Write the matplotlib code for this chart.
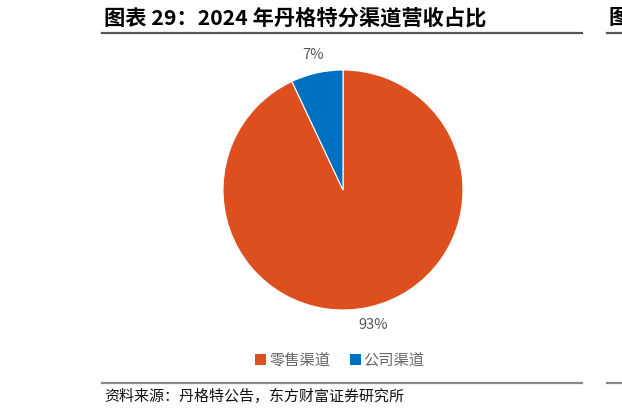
import matplotlib.pyplot as plt
from matplotlib.lines import Line2D
from matplotlib.patches import Patch

plt.rcParams['font.family'] = ['Noto Sans CJK SC', 'DejaVu Sans']

# data
channels = ["零售渠道", "公司渠道"]
shares = [93, 7]
colors = ["#DE4F1F", "#0070C0"]

title = "图表 29：2024 年丹格特分渠道营收占比"
source = "资料来源：丹格特公告，东方财富证券研究所"

W, H = 622, 413
fig = plt.figure(figsize=(W / 100, H / 100), dpi=100)

# header / footer rules
fig.add_artist(Line2D([102 / W, 582 / W], [1 - 33 / H, 1 - 33 / H], color="#555555", lw=1.6))
fig.add_artist(Line2D([102 / W, 582 / W], [1 - 383 / H, 1 - 383 / H], color="#888888", lw=1.6))
fig.add_artist(Line2D([607 / W, 1.0], [1 - 33 / H, 1 - 33 / H], color="#555555", lw=1.6))
fig.add_artist(Line2D([607 / W, 1.0], [1 - 383 / H, 1 - 383 / H], color="#888888", lw=1.6))
# neighbouring panel's title, cut off at the right edge as in the reference
fig.text(608 / W, 1 - 18 / H, "图", fontsize=15, fontweight="bold", va="center", ha="left")

fig.text(104 / W, 1 - 18 / H, title, fontsize=15.3, fontweight="bold", va="center", ha="left")
fig.text(104 / W, 1 - 396 / H, source, fontsize=10.8, va="center", ha="left", color="#111111")

# pie
r = 120
cx, cy = 343, 190
ax = fig.add_axes([(cx - r) / W, 1 - (cy + r) / H, 2 * r / W, 2 * r / H])
ax.pie(shares, colors=colors, startangle=90, counterclock=False,
       autopct="%d%%", pctdistance=1.15,
       wedgeprops=dict(edgecolor="white", linewidth=0.8),
       textprops=dict(color="#555555", fontsize=10.5))
ax.set_aspect("equal")
ax.set_xlim(-1, 1)
ax.set_ylim(-1, 1)
ax.axis("off")

handles = [Patch(facecolor=c, edgecolor="none") for c in colors]
fig.legend(handles, channels, loc="center", bbox_to_anchor=(340 / W, 1 - 360 / H),
           ncol=2, frameon=False, fontsize=11, handlelength=0.7, handleheight=0.7,
           handletextpad=0.2, columnspacing=1.3, labelcolor="#666666")

fig.savefig("out.png", dpi=100)
